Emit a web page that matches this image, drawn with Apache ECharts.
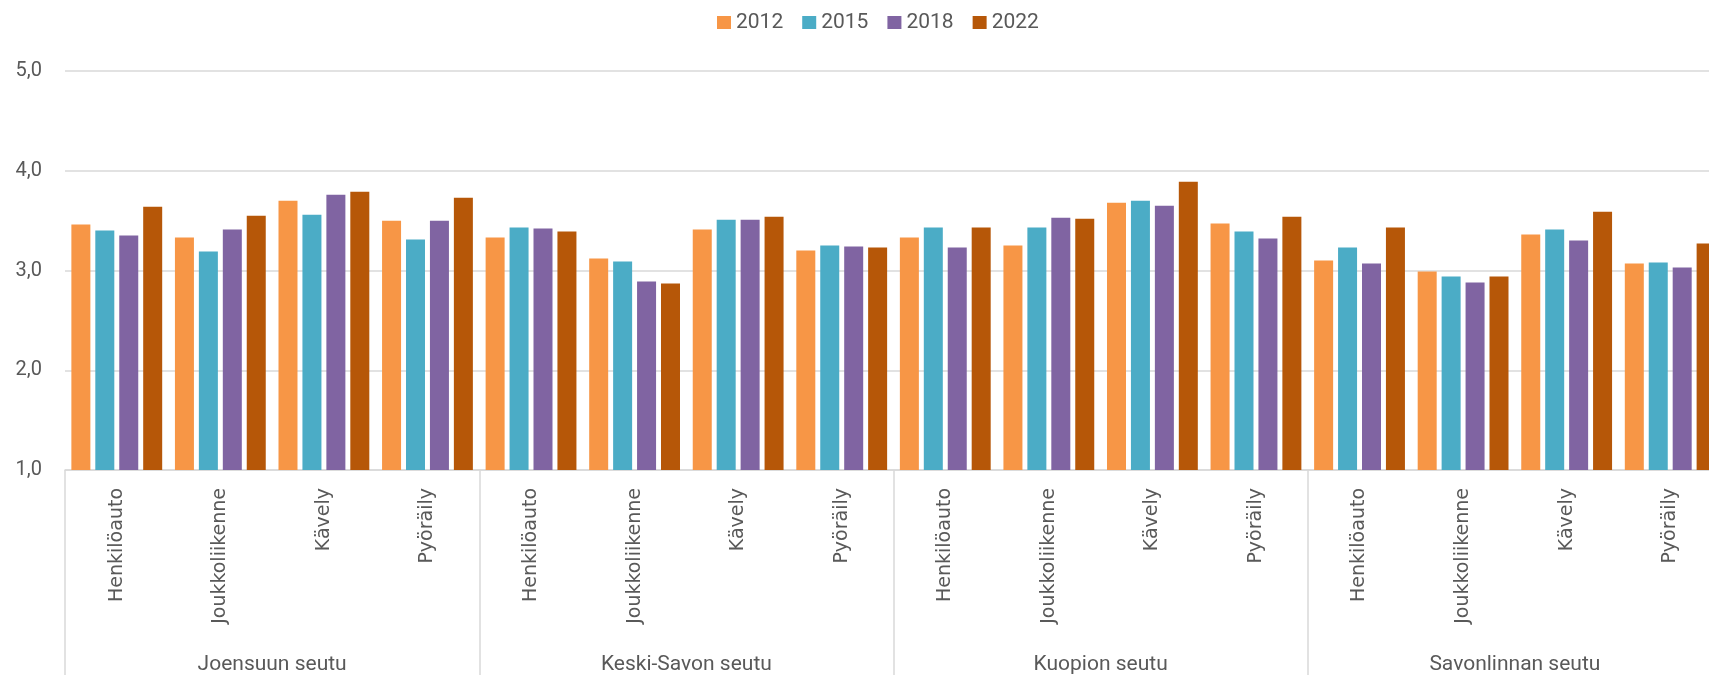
<!DOCTYPE html>
<html>
<head>
<meta charset="utf-8">
<script src="https://cdn.jsdelivr.net/npm/echarts@6/dist/echarts.min.js"></script>
<style>
  html, body { margin: 0; padding: 0; background: #fff; overflow: hidden; }
  #chart { width: 1740px; height: 675px; }
</style>
</head>
<body>
<div id="chart"></div>
<script>
// seudut ja kulkutavat
const regions = ['Joensuun seutu', 'Keski-Savon seutu', 'Kuopion seutu', 'Savonlinnan seutu']
const modes = ['Henkilöauto', 'Joukkoliikenne', 'Kävely', 'Pyöräily']
const years = ['2012', '2015', '2018', '2022']
const yTicks = [1, 2, 3, 4, 5]

// arvot seuduittain: Joensuu, Keski-Savo, Kuopio, Savonlinna (4 kulkutapaa kukin)
const v2012 = [3.46, 3.33, 3.70, 3.50, 3.33, 3.12, 3.41, 3.20, 3.33, 3.25, 3.68, 3.47, 3.10, 2.99, 3.36, 3.07]
const v2015 = [3.40, 3.19, 3.56, 3.31, 3.43, 3.09, 3.51, 3.25, 3.43, 3.43, 3.70, 3.39, 3.23, 2.94, 3.41, 3.08]
const v2018 = [3.35, 3.41, 3.76, 3.50, 3.42, 2.89, 3.51, 3.24, 3.23, 3.53, 3.65, 3.32, 3.07, 2.88, 3.30, 3.03]
const v2022 = [3.64, 3.55, 3.79, 3.73, 3.39, 2.87, 3.54, 3.23, 3.43, 3.52, 3.89, 3.54, 3.43, 2.94, 3.59, 3.27]

const colors = ['#F79646', '#4BACC6', '#8064A2', '#B65708']
const textColor = '#595959'
const lineColor = '#d9d9d9'

const categories = []
regions.forEach(() => modes.forEach(m => categories.push(m)))
const values = [v2012, v2015, v2018, v2022]

const chart = echarts.init(document.getElementById('chart'))

chart.setOption({
  animation: false,
  color: colors,
  legend: {
    left: 712,
    top: 7,
    itemWidth: 14,
    itemHeight: 13,
    itemGap: 19,
    icon: 'rect',
    textStyle: { color: textColor, fontSize: 21, fontFamily: 'Roboto' },
    data: years
  },
  grid: { left: 65, right: 18, top: 71, bottom: 205 },
  xAxis: [
    {
      type: 'category',
      data: categories,
      axisLine: { show: true, lineStyle: { color: lineColor, width: 1.5 } },
      axisTick: { show: false },
      axisLabel: {
        interval: 0,
        rotate: 90,
        margin: 18,
        color: textColor,
        fontSize: 19,
        fontFamily: 'DejaVu Sans'
      }
    },
    {
      type: 'category',
      data: regions,
      position: 'bottom',
      axisLine: { show: false },
      axisTick: { show: true, length: 210, lineStyle: { color: lineColor, width: 1.5 } },
      axisLabel: {
        margin: 184,
        color: textColor,
        fontSize: 21,
        fontFamily: 'Roboto'
      }
    }
  ],
  yAxis: {
    type: 'value',
    min: yTicks[0],
    max: yTicks[yTicks.length - 1],
    interval: 1,
    axisLine: { show: false },
    axisTick: { show: false },
    splitLine: { lineStyle: { color: lineColor, width: 1.5 } },
    axisLabel: {
      margin: 23,
      color: textColor,
      fontSize: 20,
      fontFamily: 'Roboto',
      formatter: v => v.toFixed(1).replace('.', ',')
    }
  },
  series: years.map((y, i) => ({
    name: y,
    type: 'bar',
    xAxisIndex: 0,
    data: values[i],
    barWidth: 19,
    barGap: '26%'
  }))
})
</script>
</body>
</html>
